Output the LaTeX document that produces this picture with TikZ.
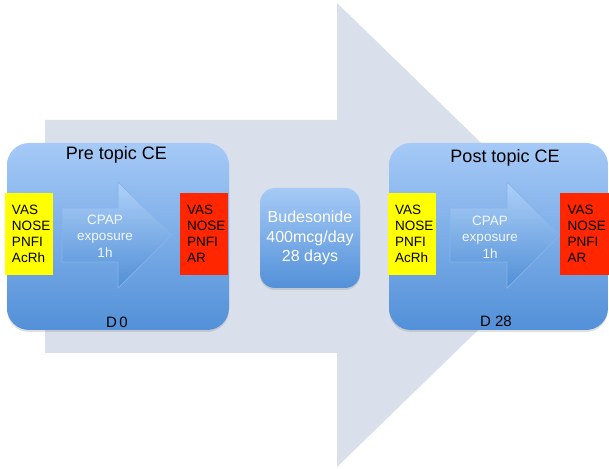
\documentclass[tikz,border=0pt]{standalone}
\usepackage{fontspec}
\setmainfont{Liberation Sans}
\usetikzlibrary{shadows}
\definecolor{bigarrow}{HTML}{D9DFEB}
\definecolor{boxtop}{HTML}{A6CAF7}
\definecolor{boxbot}{HTML}{5290D8}
\definecolor{arrtop}{HTML}{B2D3FA}
\definecolor{arrbot}{HTML}{4F8ED6}
\definecolor{arredge}{HTML}{86B4E8}
\definecolor{yel}{HTML}{FFFF00}
\definecolor{redb}{HTML}{FF2600}
\begin{document}
\begin{tikzpicture}[x=1pt,y=1pt,
  panel/.style={rounded corners=22pt, top color=boxtop, bottom color=boxbot,
    drop shadow={opacity=0.25,shadow xshift=0pt,shadow yshift=-2pt}, inner sep=0pt},
  midpanel/.style={panel, rounded corners=15pt},
  smallarrow/.style={top color=arrtop, bottom color=arrbot, draw=arredge, line width=0.7pt, fill opacity=0.9},
  measure/.style={minimum width=48pt, minimum height=82pt, inner xsep=7pt, text width=34pt,
    align=left, font=\fontsize{13.5}{16}\selectfont, text=black},
  yellowbox/.style={measure, fill=yel},
  redbox/.style={measure, fill=redb},
  title/.style={font=\fontsize{18}{21}\selectfont, text=black},
  daylabel/.style={font=\fontsize{15}{18}\selectfont, text=black},
  cpap/.style={font=\fontsize{13.5}{16.5}\selectfont, text=white, text opacity=0.9, align=center},
  budtext/.style={font=\fontsize{16}{19.5}\selectfont, text=white, align=center}
]
\useasboundingbox (0,0) rectangle (609,468);
% big background arrow
\fill[bigarrow] (45,348) -- (337,348) -- (337,465) -- (576,233) -- (337,1) -- (337,115) -- (45,115) -- cycle;

% panels
\node[panel, minimum width=222pt, minimum height=187pt] (pre) at (118,231.5) {};
\node[panel, minimum width=219pt, minimum height=187pt] (post) at (498.5,231.5) {};
\node[midpanel, minimum width=100pt, minimum height=100pt] (bud) at (310,230) {};
\node[budtext] (budt) at (310,230) {Budesonide\\400mcg/day\\28 days};

% small arrows
\path[smallarrow] (62,260) -- (118,260) -- (118,286) -- (172,233) -- (118,180) -- (118,206) -- (62,206) -- cycle;
\path[smallarrow] (450,260) -- (507,260) -- (507,286) -- (560,233) -- (507,180) -- (507,206) -- (450,206) -- cycle;
\node[cpap] (cpappre) at (105,232) {CPAP\\exposure\\1h};
\node[cpap] (cpappost) at (490,231) {CPAP\\exposure\\1h};

% measurement boxes
\node[yellowbox] (preA) at (29,234) {VAS\\NOSE\\PNFI\\AcRh};
\node[redbox] (preB) at (204,234) {VAS\\NOSE\\PNFI\\AR};
\node[yellowbox] (postA) at (412,234) {VAS\\NOSE\\PNFI\\AcRh};
\node[redbox, minimum width=49pt] (postB) at (584.5,234) {VAS\\NOSE\\PNFI\\AR};

% titles and day labels
\node[title] (pret) at (116.5,313) {Pre topic CE};
\node[title] (postt) at (505,310) {Post topic CE};
\node[daylabel] (d0) at (117,146) {D\,0};
\node[daylabel] (d28) at (496,147) {D 28};
\end{tikzpicture}
\end{document}
